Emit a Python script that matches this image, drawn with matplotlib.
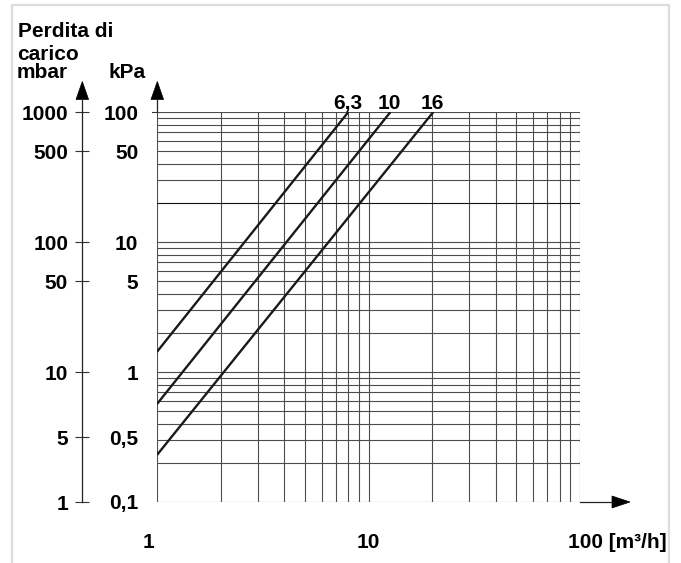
import matplotlib
matplotlib.use("Agg")
import matplotlib.pyplot as plt
import matplotlib.transforms as mtransforms
from matplotlib.lines import Line2D
from matplotlib.patches import Polygon
from matplotlib.ticker import NullLocator

# ---------------- data ----------------
kv_labels = ["6,3", "10", "16"]
flow_start = [1.0, 1.0, 1.0]          # m3/h
dp_start = [1.43, 0.567, 0.23]        # kPa
flow_end = [8.03, 12.7, 20.25]        # m3/h
dp_end = [100.0, 100.0, 100.0]        # kPa

kpa_tick_labels = ["100", "50", "10", "5", "1", "0,5", "0,1"]
kpa_tick_pos = [100, 50, 10, 5, 1, 0.316, 0.1]      # where the reference prints them
mbar_tick_labels = ["1000", "500", "100", "50", "10", "5", "1"]
mbar_tick_pos = [1000, 500, 100, 50, 10, 3.16, 1]
x_tick_labels = ["1", "10", "100 [m³/h]"]
x_tick_pos = [1, 10, 100]

# ---------------- figure ----------------
plt.rcParams["font.family"] = ["Liberation Sans", "DejaVu Sans"]
plt.rcParams["font.weight"] = "bold"
plt.rcParams["font.size"] = 15

W, H = 681, 563
fig = plt.figure(figsize=(W / 100, H / 100), dpi=100)
fig.patch.set_facecolor("white")


def fx(x):
    return x / W


def fy(y):
    return 1 - y / H


L, R, T, B = 157, 580, 112, 502
ax = fig.add_axes([fx(L), fy(B), (R - L) / W, (B - T) / H])
ax.set_xscale("log")
ax.set_yscale("log")
ax.set_xlim(1, 100)
ax.set_ylim(0.1, 100)
for s in ax.spines.values():
    s.set_visible(False)
ax.patch.set_visible(False)

grid_col = "#4d4d4d"
grid_x = [m * 10 ** e for e in range(0, 2) for m in range(1, 10)] + [100]
grid_y = [m * 10 ** e for e in range(-1, 2) for m in range(1, 10)] + [100]
for gx in grid_x:
    ax.axvline(gx, color=grid_col, lw=0.8, zorder=1)
for gy in grid_y:
    c = "#111111" if gy == 20 else grid_col
    ax.axhline(gy, color=c, lw=0.8, zorder=1)

# curves
for lab, fs, ds, fe, de in zip(kv_labels, flow_start, dp_start, flow_end, dp_end):
    ax.plot([fs, fe], [ds, de], color="#1a1a1a", lw=1.7, zorder=3,
            solid_capstyle="butt")
    ax.annotate(lab, (fe, de), xytext=(-1, 3), textcoords="offset pixels",
                ha="center", va="baseline", fontweight="bold")

# kPa tick labels
ax.xaxis.set_major_locator(NullLocator())
ax.xaxis.set_minor_locator(NullLocator())
ax.set_yticks(kpa_tick_pos, kpa_tick_labels)
ax.yaxis.set_minor_locator(NullLocator())
ax.tick_params(axis="y", length=0, pad=13.5, labelsize=15)
for t in ax.get_yticklabels():
    t.set_fontweight("bold")

# x labels
offsets = [(-9, "center"), (0, "center"), (-12, "left")]
for lab, xv, (dx, ha) in zip(x_tick_labels, x_tick_pos, offsets):
    tr = mtransforms.offset_copy(ax.transData, fig=fig, x=dx, y=-40, units="dots")
    ax.text(xv, 0.1, lab, transform=tr, ha=ha, va="center", fontweight="bold")

# mbar axis
ax2 = fig.add_axes([fx(82.3), fy(B), 1e-6, (B - T) / H])
ax2.set_yscale("log")
ax2.set_ylim(1, 1000)
for s in ax2.spines.values():
    s.set_visible(False)
ax2.patch.set_visible(False)
ax2.xaxis.set_major_locator(NullLocator())
ax2.set_yticks(mbar_tick_pos, mbar_tick_labels)
ax2.yaxis.set_minor_locator(NullLocator())
ax2.tick_params(axis="y", direction="inout", length=9.4, width=0.8,
                color="#333333", pad=5.5, labelsize=15)
for t in ax2.get_yticklabels():
    t.set_fontweight("bold")

# axis lines, arrows (figure pixel helpers)
def fline(xs, ys, **kw):
    fig.add_artist(Line2D([fx(v) for v in xs], [fy(v) for v in ys],
                          transform=fig.transFigure, **kw))


def ftri(pts):
    fig.add_artist(Polygon([(fx(a), fy(b)) for a, b in pts], closed=True,
                           transform=fig.transFigure, facecolor="black",
                           edgecolor="black", lw=0.5))


fline([82.3, 82.3], [B, 99], color="#222222", lw=0.9)
ftri([(82.3, 81.5), (76, 99.5), (88.6, 99.5)])
fline([L, L], [T, 99], color="#222222", lw=0.9)
ftri([(157.3, 81.5), (151, 99.5), (163.6, 99.5)])
fline([151.5, L], [T, T], color="#333333", lw=0.8)
fline([R, 612], [B, B], color="#222222", lw=0.9)
ftri([(630, B), (612, 496), (612, 508)])

# border
fline([12, 12, 669, 669], [H + 5, 5, 5, H + 5], color="#dcdcdc", lw=1.6)

# headings
fig.text(fx(18), fy(37.3), "Perdita di", ha="left", va="baseline", fontweight="bold")
fig.text(fx(17), fy(60.0), "carico", ha="left", va="baseline", fontweight="bold")
fig.text(fx(17), fy(78.0), "mbar", ha="left", va="baseline", fontweight="bold")
fig.text(fx(108), fy(78.0), "kPa", ha="left", va="baseline", fontweight="bold")

fig.savefig("out.png", dpi=100, facecolor="white")
